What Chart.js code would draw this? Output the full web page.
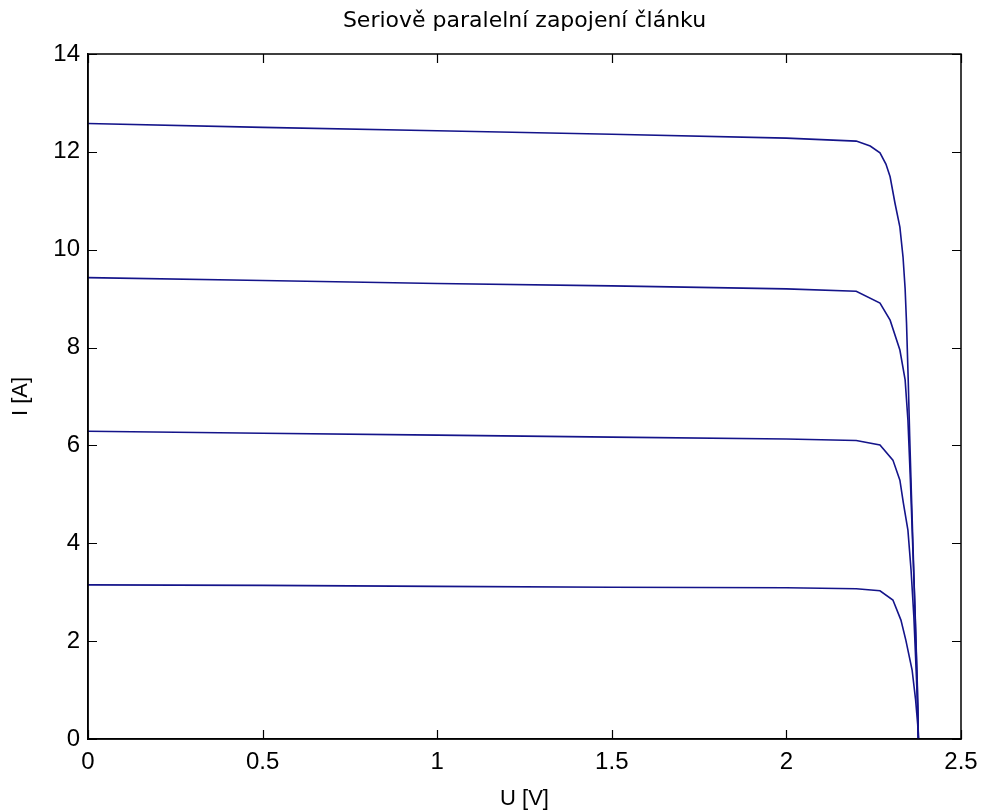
<!DOCTYPE html>
<html>
<head>
<meta charset="utf-8">
<script src="https://cdn.jsdelivr.net/npm/chart.js@4/dist/chart.umd.min.js"></script>
<style>
  html, body { margin: 0; padding: 0; background: #ffffff; }
  #wrap { width: 981px; height: 812px; position: relative; }
</style>
</head>
<body>
<div id="wrap"><canvas id="c" width="981" height="812"></canvas></div>
<script>
const chartTitle = "Seriově paralelní zapojení článku";
const xTitle = "U [V]";
const yTitle = "I [A]";
const xTicks = [0, 0.5, 1, 1.5, 2, 2.5];
const yTicks = [0, 2, 4, 6, 8, 10, 12, 14];

const u1 = [0, 0.5, 1.0, 1.5, 2.0, 2.2, 2.24, 2.268, 2.285, 2.297, 2.311, 2.325, 2.334, 2.340, 2.344, 2.349, 2.353, 2.358, 2.364, 2.370, 2.375, 2.378];
const i1 = [12.58, 12.50, 12.43, 12.36, 12.28, 12.22, 12.12, 11.98, 11.75, 11.49, 10.95, 10.46, 9.85, 9.2, 8.5, 7.3, 6.2, 5.0, 3.6, 2.2, 1.0, 0];

const u2 = [0, 0.5, 1.0, 1.5, 2.0, 2.2, 2.268, 2.297, 2.325, 2.340, 2.348, 2.355, 2.362, 2.369, 2.375, 2.378];
const i2 = [9.43, 9.37, 9.31, 9.26, 9.20, 9.15, 8.91, 8.56, 7.95, 7.34, 6.52, 5.3, 3.9, 2.5, 1.1, 0];

const u3 = [0, 0.5, 1.0, 1.5, 2.0, 2.2, 2.268, 2.305, 2.325, 2.335, 2.348, 2.357, 2.365, 2.371, 2.376, 2.378];
const i3 = [6.29, 6.25, 6.21, 6.17, 6.13, 6.10, 6.01, 5.70, 5.29, 4.82, 4.27, 3.45, 2.5, 1.5, 0.6, 0];

const u4 = [0, 0.5, 1.0, 1.5, 2.0, 2.2, 2.268, 2.305, 2.328, 2.342, 2.360, 2.370, 2.376, 2.378];
const i4 = [3.15, 3.14, 3.12, 3.10, 3.09, 3.07, 3.03, 2.84, 2.43, 2.02, 1.41, 0.80, 0.3, 0];

const pts = (u, i) => u.map((v, k) => ({ x: v, y: i[k] }));
const lineColor = '#14148a';
const FONT = "'Liberation Sans', Arial, sans-serif";
const TFONT = "'DejaVu Sans', sans-serif";

const boxTicks = {
  id: 'boxTicks',
  afterDraw(chart) {
    const { ctx, chartArea: a, scales: { x, y } } = chart;
    ctx.save();
    ctx.strokeStyle = '#000';
    ctx.lineWidth = 1.5;
    ctx.beginPath();
    ctx.rect(a.left, a.top, a.right - a.left, a.bottom - a.top);
    ctx.stroke();
    const L = 9;
    ctx.lineWidth = 1.2;
    ctx.beginPath();
    xTicks.forEach(t => {
      const px = Math.round(x.getPixelForValue(t)) + 0.5;
      ctx.moveTo(px, a.bottom); ctx.lineTo(px, a.bottom - L);
      ctx.moveTo(px, a.top); ctx.lineTo(px, a.top + L);
    });
    yTicks.forEach(t => {
      const py = Math.round(y.getPixelForValue(t)) + 0.5;
      ctx.moveTo(a.left, py); ctx.lineTo(a.left + L, py);
      ctx.moveTo(a.right, py); ctx.lineTo(a.right - L, py);
    });
    ctx.stroke();
    ctx.fillStyle = '#000';
    ctx.font = "22px " + TFONT;
    ctx.textAlign = 'center';
    ctx.textBaseline = 'middle';
    ctx.fillText(chartTitle, (a.left + a.right) / 2, 21);
    ctx.restore();
  }
};

const fmt = v => String(v);

new Chart(document.getElementById('c'), {
  type: 'line',
  data: {
    datasets: [
      { data: pts(u1, i1) },
      { data: pts(u2, i2) },
      { data: pts(u3, i3) },
      { data: pts(u4, i4) }
    ].map(d => Object.assign(d, {
      borderColor: lineColor, backgroundColor: lineColor,
      borderWidth: 1.6, pointRadius: 0, tension: 0, fill: false
    }))
  },
  options: {
    responsive: false,
    animation: false,
    layout: { padding: { top: 54, right: 20, left: 0, bottom: 0 } },
    plugins: { legend: { display: false }, tooltip: { enabled: false }, title: { display: false } },
    scales: {
      x: {
        type: 'linear', min: 0, max: 2.5,
        afterBuildTicks: s => { s.ticks = xTicks.map(v => ({ value: v })); },
        afterFit: s => { s.height = 73; s.paddingLeft = 0; s.paddingRight = 0; },
        grid: { display: false, drawTicks: false },
        border: { display: true, color: '#000', width: 1.5 },
        ticks: { color: '#000', padding: 9, font: { family: FONT, size: 24 }, maxRotation: 0, callback: fmt },
        title: { display: true, text: xTitle, color: '#000', font: { family: FONT, size: 22 }, padding: { top: 0, bottom: 0 } }
      },
      y: {
        type: 'linear', min: 0, max: 14,
        afterBuildTicks: s => { s.ticks = yTicks.map(v => ({ value: v })); },
        afterFit: s => { s.width = 88; s.paddingTop = 0; s.paddingBottom = 0; },
        grid: { display: false, drawTicks: false },
        border: { display: true, color: '#000', width: 1.5 },
        ticks: { color: '#000', padding: 8, font: { family: FONT, size: 24 }, callback: fmt },
        title: { display: true, text: yTitle, color: '#000', font: { family: FONT, size: 22 }, padding: { top: 8, bottom: 0 } }
      }
    }
  },
  plugins: [boxTicks]
});
</script>
</body>
</html>
